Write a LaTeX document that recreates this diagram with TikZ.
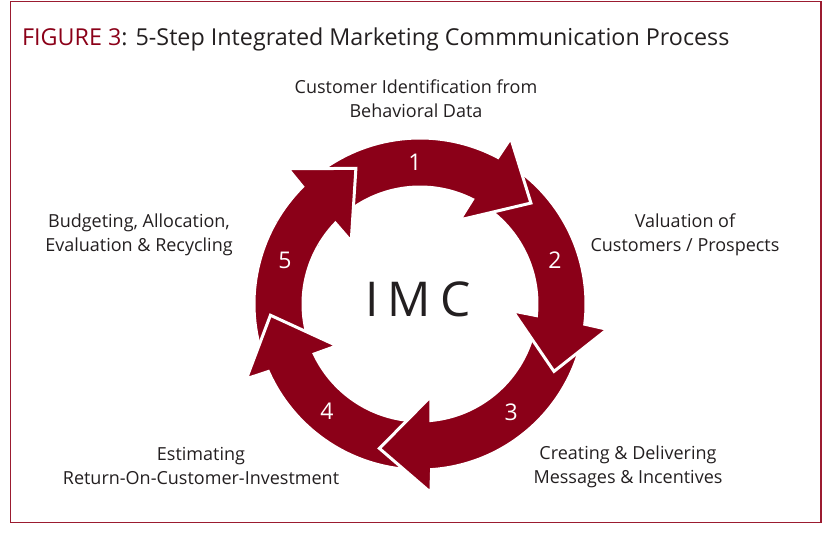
\documentclass[tikz,border=0pt]{standalone}
\usepackage{fontspec}
\setmainfont{Open Sans}
\usetikzlibrary{calc}
\definecolor{imcred}{RGB}{139,0,24}
\definecolor{framered}{RGB}{155,27,48}
\definecolor{txtgray}{RGB}{35,31,32}
\tikzset{
  steparrow/.style={fill=imcred, draw=white, line width=3pt, line join=miter},
  stepnum/.style={text=white, inner sep=0pt, font=\fontsize{23}{23}\selectfont},
  steplabel/.style={text=txtgray, align=center, inner sep=0pt, font=\fontsize{18}{24}\selectfont},
  titletext/.style={text=txtgray, inner sep=0pt, font=\fontsize{23.3}{28}\selectfont},
  imctext/.style={text=txtgray, inner sep=0pt, font=\fontsize{48}{48}\selectfont},
  pics/imcarrow/.style 2 args={code={
    \filldraw[steparrow] (#2:\ro) arc[start angle=#2, end angle=#1-1, radius=\ro]
      -- (#1-1.7:189) -- (#1-20.7:150) -- (#1+1.7:93) -- (#1+0.3:\ri)
      arc[start angle=#1+0.3, end angle=#2, radius=\ri] -- cycle;
  }},
}

\begin{document}
\begin{tikzpicture}[x=1pt,y=1pt]
    \pgfmathsetmacro{\ro}{166}
    \pgfmathsetmacro{\ri}{117}
    \useasboundingbox (0,0) rectangle (823,535);
    \draw[framered, line width=1.7pt] (10.5,12.5) rectangle (821,533.5);
    \node[titletext, anchor=base west] (title) at (22,489) {\textcolor{imcred}{FIGURE 3}: 5-Step Integrated Marketing Commmunication Process};
    \coordinate (c) at (420,231);
    % backwards, so that every head lies over the next tail
    \foreach \b/\t in {136/196, -155/-94, -85/-15, -6/54, 63/127}
      \pic at (c) {imcarrow={\b}{\t}};
    % head 5 still has to go over tail 1
    \begin{scope}
      \clip (c) -- ++(104:230) arc[start angle=104, end angle=150, radius=230] -- cycle;
      \pic at (c) {imcarrow={136}{196}};
    \end{scope}
    \foreach \a/\k in {92/1, 18/2, -50/3, -131/4, 162/5}
      \node[stepnum] (n\k) at ($(c)+(\a:142)$) {\k};
    \node[imctext, anchor=base] (imc) at (418,218) {I\kern9pt M\kern9pt C};
    \node[steplabel] (l1) at (416,436) {Customer Identification from\\Behavioral Data};
    \node[steplabel] (l2) at (685,300) {Valuation of\\Customers / Prospects};
    \node[steplabel] (l3) at (628,68) {Creating \& Delivering\\Messages \& Incentives};
    \node[steplabel] (l4) at (201,69) {Estimating\\Return-On-Customer-Investment};
    \node[steplabel] (l5) at (139,300) {Budgeting, Allocation,\\Evaluation \& Recycling};
\end{tikzpicture}
\end{document}
